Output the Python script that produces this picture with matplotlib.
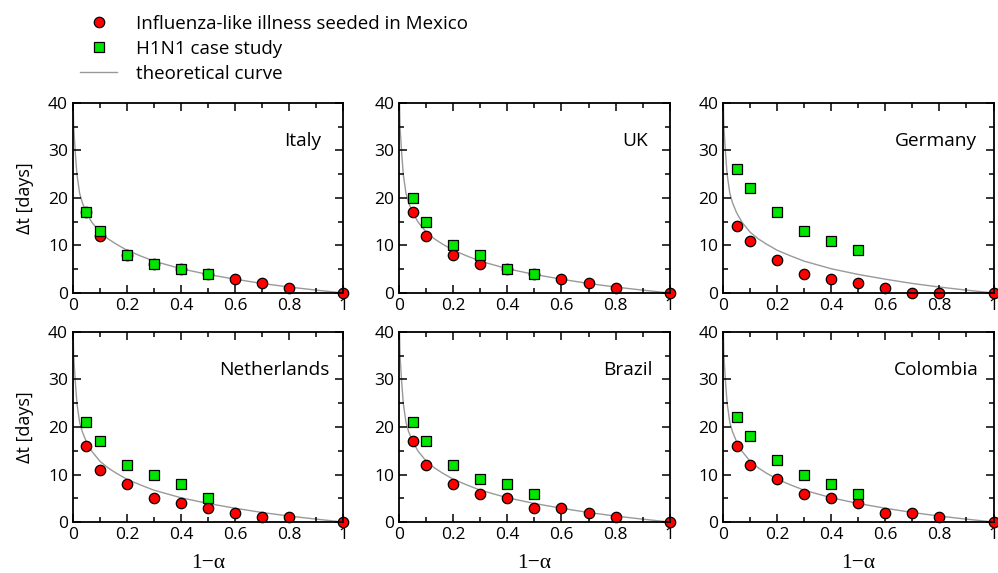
import numpy as np
import matplotlib.pyplot as plt
from matplotlib.ticker import MultipleLocator

plt.rcParams['font.family'] = ['Open Sans', 'DejaVu Sans']

# ===== data =====
countries = ["Italy", "UK", "Germany", "Netherlands", "Brazil", "Colombia"]

x_ili = [0.05, 0.1, 0.2, 0.3, 0.4, 0.5, 0.6, 0.7, 0.8, 1.0]
x_h1n1 = [0.05, 0.1, 0.2, 0.3, 0.4, 0.5]

ili_italy = [17, 12, 8, 6, 5, 4, 3, 2, 1, 0]
ili_uk = [17, 12, 8, 6, 5, 4, 3, 2, 1, 0]
ili_germany = [14, 11, 7, 4, 3, 2, 1, 0, 0, 0]
ili_netherlands = [16, 11, 8, 5, 4, 3, 2, 1, 1, 0]
ili_brazil = [17, 12, 8, 6, 5, 3, 3, 2, 1, 0]
ili_colombia = [16, 12, 9, 6, 5, 4, 2, 2, 1, 0]

h1n1_italy = [17, 13, 8, 6, 5, 4]
h1n1_uk = [20, 15, 10, 8, 5, 4]
h1n1_germany = [26, 22, 17, 13, 11, 9]
h1n1_netherlands = [21, 17, 12, 10, 8, 5]
h1n1_brazil = [21, 17, 12, 9, 8, 6]
h1n1_colombia = [22, 18, 13, 10, 8, 6]

# theoretical curve, points (same in every panel)
x_theory = [0.0012, 0.003, 0.0085, 0.015, 0.025, 0.035, 0.05, 0.07, 0.1, 0.13,
            0.16, 0.2, 0.25, 0.3, 0.35, 0.4, 0.45, 0.5, 0.6, 0.7, 0.8, 0.9, 1.0]
y_theory = [40, 35, 30, 25, 21, 19, 16.9, 14.9, 12.8, 11.4,
            10.3, 9.0, 7.8, 6.7, 5.9, 5.1, 4.5, 3.9, 2.9, 2.0, 1.25, 0.6, 0]

ili = [ili_italy, ili_uk, ili_germany, ili_netherlands, ili_brazil, ili_colombia]
h1n1 = [h1n1_italy, h1n1_uk, h1n1_germany, h1n1_netherlands, h1n1_brazil, h1n1_colombia]

fig = plt.figure(figsize=(9.98, 5.73), dpi=100)

lefts = [0.073, 0.4, 0.7245]
bottoms = [0.4887, 0.089]
w, h = 0.271, 0.3316
label_x = [0.92, 0.92, 0.94, 0.95, 0.937, 0.944]

for i, name in enumerate(countries):
    row, col = divmod(i, 3)
    ax = fig.add_axes([lefts[col], bottoms[row], w, h])
    l_th, = ax.plot(x_theory, y_theory, color='#999999', lw=1.0, zorder=1)
    l_ili, = ax.plot(x_ili, ili[i], 'o', ms=7.5, mfc='#ff0000', mec='black',
                     mew=0.9, clip_on=False, zorder=2)
    l_h1, = ax.plot(x_h1n1, h1n1[i], 's', ms=6.5, mfc='#00e600', mec='black',
                    mew=0.9, clip_on=False, zorder=2.1)
    ax.set_xlim(0, 1)
    ax.set_ylim(0, 40)
    ax.xaxis.set_minor_locator(MultipleLocator(0.1))
    ax.yaxis.set_major_locator(MultipleLocator(10))
    ax.yaxis.set_minor_locator(MultipleLocator(5))
    ax.set_xticks([0, 0.2, 0.4, 0.6, 0.8, 1.0])
    ax.set_xticklabels(["0", "0.2", "0.4", "0.6", "0.8", "1"])
    ax.tick_params(which='both', direction='in', top=True, right=True,
                   width=1.1, labelsize=12.5)
    ax.tick_params(which='major', length=6)
    ax.tick_params(which='minor', length=3.5)
    for s in ax.spines.values():
        s.set_linewidth(1.3)
    ax.text(label_x[i], 0.8, name, transform=ax.transAxes, ha='right',
            va='center', fontsize=13.8)
    if col == 0:
        ax.set_ylabel("\u0394t [days]", fontsize=13, labelpad=10)
    if row == 1:
        ax.set_xlabel("1\u2212\u03b1", fontsize=15.5, family=['Liberation Serif'],
                      labelpad=8)

fig.legend([l_ili, l_h1, l_th],
           ["Influenza-like illness seeded in Mexico", "H1N1 case study",
            "theoretical curve"],
           loc='upper left', bbox_to_anchor=(0.080, 0.974), frameon=False,
           fontsize=13.5, handlelength=2.0, handletextpad=1.0,
           labelspacing=0.37, borderaxespad=0, borderpad=0)

fig.savefig("out.png", dpi=100)
